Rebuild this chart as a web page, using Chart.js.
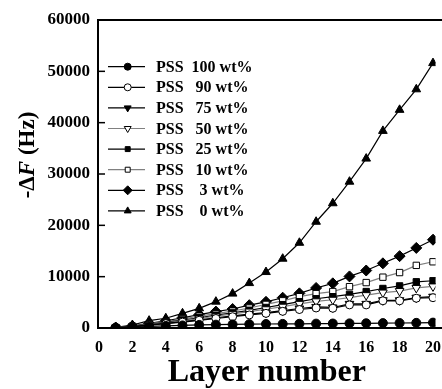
<!DOCTYPE html>
<html><head><meta charset="utf-8">
<script src="https://cdn.jsdelivr.net/npm/chart.js@4.4.0/dist/chart.umd.min.js"></script>
<style>html,body{margin:0;padding:0;background:#fff;}#wrap{width:442px;height:389px;position:relative;}</style>
</head><body><div id="wrap"><canvas id="c" width="442" height="389"></canvas></div>
<script>
const layers = [1,2,3,4,5,6,7,8,9,10,11,12,13,14,15,16,17,18,19,20];
const xTicks = [0,2,4,6,8,10,12,14,16,18,20];
const yTicks = [0,10000,20000,30000,40000,50000,60000];
const seriesLabels = ["PSS  100 wt%","PSS   90 wt%","PSS   75 wt%","PSS   50 wt%","PSS   25 wt%","PSS   10 wt%","PSS    3 wt%","PSS    0 wt%"];
const pss100 = [50,150,300,400,500,600,650,700,750,780,800,820,850,870,900,920,950,970,1000,1050];
const pss90  = [50,230,550,850,1150,1500,1850,2200,2550,2850,3250,3600,3900,3850,4500,4500,5300,5300,5800,5900];
const pss75  = [60,250,600,900,1250,1600,2000,2350,2700,3000,3400,3800,4100,4000,4700,4700,5400,5400,5900,6100];
const pss50  = [60,280,650,1000,1400,1850,2300,2750,3200,3650,4150,4700,5200,5500,5900,6400,6900,7200,7800,8100];
const pss25  = [70,300,700,1100,1550,2000,2500,2950,3450,4000,4550,5130,5700,6100,6550,7100,7700,8200,9000,9200];
const pss10  = [80,350,800,1250,1750,2300,2800,3300,3900,4600,5300,6100,6700,7100,8050,8850,9900,10800,12200,12900];
const pss3   = [100,400,900,1400,2000,2600,3200,3700,4450,5100,5900,6750,7800,8700,10050,11200,12600,14000,15600,17200];
const pss0   = [130,580,1430,1900,2860,3830,5130,6700,8750,10900,13500,16600,20700,24300,28500,33000,38400,42500,46500,51600];

const seriesValues = [pss100,pss90,pss75,pss50,pss25,pss10,pss3,pss0];
const styles = [
  {ps:'circle', rot:0, r:4.5, fill:'#000', line:'#000', lr:3.5},
  {ps:'circle', rot:0, r:4, fill:'#fff', line:'#000', lr:3.5},
  {ps:'triangle', rot:180, r:5, fill:'#000', line:'#000', lr:4},
  {ps:'triangle', rot:180, r:5, fill:'#fff', line:'#808080', lr:4},
  {ps:'rect', rot:0, r:4.5, fill:'#000', line:'#000', lr:3.5},
  {ps:'rect', rot:0, r:4.5, fill:'#fff', line:'#808080', lr:3.5},
  {ps:'rectRot', rot:0, r:5.5, fill:'#000', line:'#000', lr:4.5},
  {ps:'triangle', rot:0, r:5, fill:'#000', line:'#000', lr:4}
];
const SERIF = '"Liberation Serif","Times New Roman",serif';

const datasets = seriesValues.map((vals,i)=>({
  label: seriesLabels[i],
  data: layers.map((l,j)=>({x:l, y:vals[j]})),
  borderColor: styles[i].line,
  borderWidth: 1.2,
  pointStyle: styles[i].ps,
  pointRotation: styles[i].rot,
  pointRadius: styles[i].r,
  pointBackgroundColor: styles[i].fill,
  pointBorderColor: '#000',
  pointBorderWidth: 1,
  legendRadius: styles[i].lr,
  tension: 0,
  fill: false
}));

const framePlugin = {
  id:'frame',
  afterDraw(chart){
    const ctx = chart.ctx, a = chart.chartArea, ys = chart.scales.y;
    ctx.save();
    ctx.strokeStyle = '#000';
    ctx.lineWidth = 2;
    ctx.beginPath(); ctx.moveTo(a.left-1, a.top); ctx.lineTo(chart.width, a.top); ctx.stroke();
    ctx.beginPath(); ctx.moveTo(a.right, a.bottom); ctx.lineTo(chart.width, a.bottom); ctx.stroke();
    ctx.lineWidth = 1.5;
    yTicks.forEach(v=>{
      const y = ys.getPixelForValue(v);
      ctx.beginPath(); ctx.moveTo(a.left, y); ctx.lineTo(a.left+7, y); ctx.stroke();
    });
    // legend
    chart.data.datasets.forEach((ds,i)=>{
      const y = a.top + 46.7 + i*20.6;
      ctx.strokeStyle = ds.borderColor; ctx.lineWidth = 1.2;
      ctx.beginPath(); ctx.moveTo(a.left+10, y); ctx.lineTo(a.left+47, y); ctx.stroke();
      ctx.fillStyle = ds.pointBackgroundColor; ctx.strokeStyle = '#000'; ctx.lineWidth = 1;
      Chart.helpers.drawPoint(ctx, {pointStyle: ds.pointStyle, rotation: ds.pointRotation, radius: ds.legendRadius, borderWidth: 1}, a.left+29.7, y);
      ctx.fillStyle = '#000';
      ctx.font = 'bold 16px ' + SERIF;
      ctx.textBaseline = 'middle'; ctx.textAlign = 'left';
      ctx.fillText(ds.label, a.left+58, y+1);
    });
    // y title with italic F
    ctx.translate(28, 155);
    ctx.rotate(-Math.PI/2);
    const parts = [['-\u0394','bold 23px '+SERIF],['F','italic bold 23px '+SERIF],[' (Hz)','bold 23px '+SERIF]];
    let total = 0;
    parts.forEach(p=>{ctx.font=p[1]; total += ctx.measureText(p[0]).width;});
    let x = -total/2;
    ctx.fillStyle = '#000'; ctx.textBaseline='middle'; ctx.textAlign='left';
    parts.forEach(p=>{ctx.font=p[1]; ctx.fillText(p[0], x, 0); x += ctx.measureText(p[0]).width;});
    ctx.restore();
  }
};

new Chart(document.getElementById('c'), {
  type: 'line',
  data: { datasets },
  options: {
    responsive: false,
    animation: false,
    layout: { padding: { top: 20, right: 0, left: 0, bottom: 0 } },
    plugins: { legend: { display: false }, tooltip: { enabled: false } },
    scales: {
      x: {
        type: 'linear', min: -0.06, max: 20.15,
        afterBuildTicks(s){ s.ticks = xTicks.map(v=>({value:v})); },
        afterFit(s){ s.height = 61; s.paddingLeft = 0; s.paddingRight = 0; },
        grid: { display: false, drawTicks: false },
        border: { display: true, color: '#000', width: 2 },
        ticks: { color: '#000', padding: 10, maxRotation: 0, autoSkip: false,
                 callback: v => String(v),
                 font: { family: SERIF, weight: 'bold', size: 16 } },
        title: { display: true, text: 'Layer number', color: '#000',
                 font: { family: SERIF, weight: 'bold', size: 32, lineHeight: 1 },
                 padding: { top: 0, bottom: 0 } }
      },
      y: {
        min: 0, max: 60000,
        afterBuildTicks(s){ s.ticks = yTicks.map(v=>({value:v})); },
        afterFit(s){ s.width = 98; s.paddingTop = 0; s.paddingBottom = 0; },
        grid: { display: false, drawTicks: false },
        border: { display: true, color: '#000', width: 2 },
        ticks: { color: '#000', padding: 8, callback: v => String(v),
                 font: { family: SERIF, weight: 'bold', size: 17 } }
      }
    }
  },
  plugins: [framePlugin]
});
</script>
</body></html>
